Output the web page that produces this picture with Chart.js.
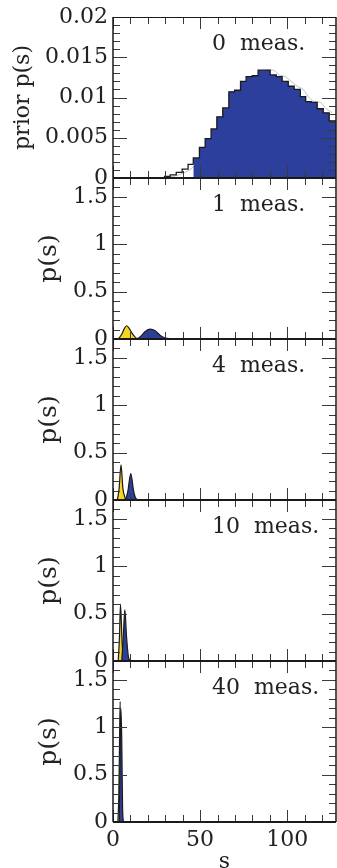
<!DOCTYPE html>
<html>
<head>
<meta charset="utf-8">
<script src="https://cdn.jsdelivr.net/npm/chart.js@4.4.4/dist/chart.umd.min.js"></script>
<style>
  body { margin: 0; background: #fff; overflow: hidden; }
  #wrap { position: relative; width: 337px; height: 868px; }
  #wrap canvas { position: absolute; left: 0; }
</style>
</head>
<body>
<div id="wrap"></div>
<script>
// axis range and tick labels
const S_MAX = 128;
const sTicks = [0, 50, 100];
const sTickLabels = ['0', '50', '100'];
const priorTicks = [0, 0.005, 0.01, 0.015, 0.02];
const priorTickLabels = ['0', '0.005', '0.01', '0.015', '0.02'];
const postTicks = [0, 0.5, 1, 1.5];
const postTickLabels = ['0', '0.5', '1', '1.5'];
const panelLabels = ['0  meas.', '1  meas.', '4  meas.', '10  meas.', '40  meas.'];

// prior histogram: left bin edges and bin heights
const priorEdges = [0, 29.6, 32.8, 36.3, 39.7, 43.1, 46.1, 49.6, 52.9, 56.3, 59.6,
  63.0, 66.5, 69.8, 73.2, 76.4, 79.9, 83.3, 86.8, 90.2, 93.7, 97.1, 100.6, 104.0,
  107.5, 110.6, 113.8, 117.2, 120.7, 124.1, 127.6, 128];
const priorHeights = [0, 0.00005, 0.0002, 0.0004, 0.0007, 0.0011, 0.0017, 0.0025,
  0.0038, 0.0049, 0.0061, 0.0076, 0.0087, 0.0107, 0.0109, 0.0120, 0.0126, 0.0127,
  0.0134, 0.0134, 0.0128, 0.0126, 0.0120, 0.0114, 0.0110, 0.0101, 0.0095, 0.0094,
  0.0086, 0.0081, 0.0071, 0.0071];
const FILL_FROM = 6; // first bin drawn shaded

// posteriors after n measurements, [s, p(s)]
const yellow1 = [[3, 0], [5, 0.05], [6.5, 0.11], [7.8, 0.14], [9, 0.12], [11, 0.06], [13, 0.015], [14.5, 0]];
const blue1 = [[14, 0], [16, 0.03], [18.5, 0.08], [21.5, 0.105], [24, 0.09], [27, 0.04], [30, 0.01], [33, 0.002], [35, 0]];
const yellow4 = [[2.5, 0], [3.5, 0.12], [4.6, 0.37], [5.7, 0.12], [7.3, 0]];
const blue4 = [[7.3, 0], [8.6, 0.1], [10.2, 0.28], [11.8, 0.1], [13, 0.02], [14.5, 0]];
const yellow10 = [[3, 0], [3.7, 0.25], [4.3, 0.6], [5.2, 0.2], [6, 0]];
const blue10 = [[5, 0], [5.9, 0.25], [6.8, 0.54], [7.8, 0.25], [8.8, 0.05], [9.8, 0]];
const yellow40 = [[2.8, 0], [3.3, 0.25], [3.8, 0.9], [4.1, 1.27], [4.5, 0.6], [5, 0]];
const blue40 = [[3.6, 0], [4.0, 0.6], [4.5, 1.2], [5, 0.9], [5.5, 0.15], [6, 0]];

const BLUE = '#2c3f9c';
const YELLOW = '#f7d520';
const INK = '#1a1a1a';
const FONT = '"DejaVu Serif", serif';

const panelTops = [17, 178, 339, 500, 661];
const PANEL_H = 161;
const PAD = 22;

// inward ticks on all four sides, frame and the panel caption
const frameTicks = {
  id: 'frameTicks',
  afterDatasetsDraw(chart, args, o) {
    const { ctx, chartArea: a, scales: { x, y } } = chart;
    const seg = (x1, y1, x2, y2) => { ctx.beginPath(); ctx.moveTo(x1, y1); ctx.lineTo(x2, y2); ctx.stroke(); };
    ctx.save();
    ctx.strokeStyle = '#3a3a3a';
    ctx.lineWidth = 1;
    for (let v = 0; v <= S_MAX; v += 10) {
      const px = Math.round(x.getPixelForValue(v)) + 0.5;
      const len = v % 50 === 0 ? 12 : 7;
      seg(px, a.bottom, px, a.bottom - len);
      seg(px, a.top, px, a.top + len);
    }
    for (let k = 0; k * o.yMinor <= y.max + 1e-9; k++) {
      const py = Math.round(y.getPixelForValue(k * o.yMinor)) + 0.5;
      const len = k % 5 === 0 ? 14 : 7;
      seg(a.left, py, a.left + len, py);
      seg(a.right, py, a.right - len, py);
    }
    ctx.strokeStyle = INK;
    ctx.lineWidth = 1.5;
    seg(a.left, a.top, a.left, a.bottom);
    seg(a.right, a.top, a.right, a.bottom);
    ctx.lineWidth = 1;
    seg(a.left, a.top + 0.5, a.right, a.top + 0.5);
    ctx.lineWidth = 2;
    seg(a.left, a.bottom, a.right, a.bottom);

    ctx.fillStyle = '#222';
    ctx.font = '22px ' + FONT;
    ctx.textBaseline = 'middle';
    ctx.textAlign = 'left';
    ctx.fillText(o.label, a.left + 99, a.top + 27);
    ctx.restore();
  }
};

const toXY = pts => pts.map(([s, p]) => ({ x: s, y: p }));

function bump(pts, color) {
  return {
    data: toXY(pts),
    fill: 'origin',
    backgroundColor: color,
    borderColor: INK,
    borderWidth: 1.2,
    pointRadius: 0,
    cubicInterpolationMode: 'monotone'
  };
}

function priorDatasets() {
  const steps = priorEdges.map((s, i) => ({ x: s, y: priorHeights[i] }));
  const mids = priorEdges.slice(0, -2).map((s, i) => ({ x: (s + priorEdges[i + 1]) / 2, y: priorHeights[i] }));
  return [
    { data: steps.slice(FILL_FROM), stepped: 'after', fill: 'origin', backgroundColor: BLUE,
      borderColor: INK, borderWidth: 1.3, pointRadius: 0 },
    { data: steps.slice(0, FILL_FROM + 1), stepped: 'after', fill: false,
      borderColor: INK, borderWidth: 1.3, pointRadius: 0 },
    { data: mids, fill: false, borderColor: '#b0b0b0', borderWidth: 0.8, pointRadius: 0,
      cubicInterpolationMode: 'monotone' }
  ];
}

function makePanel(i, datasets) {
  const last = i === panelTops.length - 1;
  const isPrior = i === 0;
  const canvas = document.createElement('canvas');
  const top = panelTops[i] - PAD;
  const height = last ? 250 : PANEL_H + 2 * PAD;
  canvas.width = 337;
  canvas.height = height;
  canvas.style.top = top + 'px';
  document.getElementById('wrap').appendChild(canvas);

  const yVals = isPrior ? priorTicks : postTicks;
  const yLabels = isPrior ? priorTickLabels : postTickLabels;

  new Chart(canvas, {
    type: 'line',
    data: { datasets },
    options: {
      responsive: false,
      animation: false,
      devicePixelRatio: 1,
      layout: { padding: { top: PAD, bottom: last ? 0 : PAD, left: 0, right: 1 } },
      plugins: {
        legend: { display: false },
        tooltip: { enabled: false },
        frameTicks: { label: panelLabels[i], yMinor: isPrior ? 0.001 : 0.1 }
      },
      scales: {
        x: {
          type: 'linear',
          min: 0,
          max: S_MAX,
          display: last,
          grid: { display: false, drawTicks: false },
          border: { display: false },
          afterBuildTicks: s => { s.ticks = sTicks.map(v => ({ value: v })); },
          afterFit: s => { if (last) s.height = height - PAD - PANEL_H; },
          ticks: {
            padding: 5,
            maxRotation: 0,
            autoSkip: false,
            color: '#222',
            font: { family: FONT, size: 22 },
            callback: (v, k) => sTickLabels[k]
          },
          title: {
            display: true,
            text: 's',
            color: '#222',
            font: { family: FONT, size: 22 },
            padding: { top: 0, bottom: 14 }
          }
        },
        y: {
          min: 0,
          max: isPrior ? 0.02 : 1.7,
          grid: { display: false, drawTicks: false },
          border: { display: false },
          afterBuildTicks: s => { s.ticks = yVals.map(v => ({ value: v })); },
          afterFit: s => { s.width = 113; },
          ticks: {
            padding: 5,
            color: '#222',
            font: { family: FONT, size: 22 },
            callback: (v, k) => yLabels[k]
          },
          title: {
            display: true,
            text: isPrior ? 'prior p(s)' : 'p(s)',
            color: '#222',
            font: { family: FONT, size: isPrior ? 22 : 25 },
            padding: { top: isPrior ? 10 : 34, bottom: 0 }
          }
        }
      }
    },
    plugins: [frameTicks]
  });
}

makePanel(0, priorDatasets());
makePanel(1, [bump(blue1, BLUE), bump(yellow1, YELLOW)]);
makePanel(2, [bump(blue4, BLUE), bump(yellow4, YELLOW)]);
makePanel(3, [bump(blue10, BLUE), bump(yellow10, YELLOW)]);
makePanel(4, [bump(blue40, BLUE), bump(yellow40, YELLOW)]);
</script>
</body>
</html>
